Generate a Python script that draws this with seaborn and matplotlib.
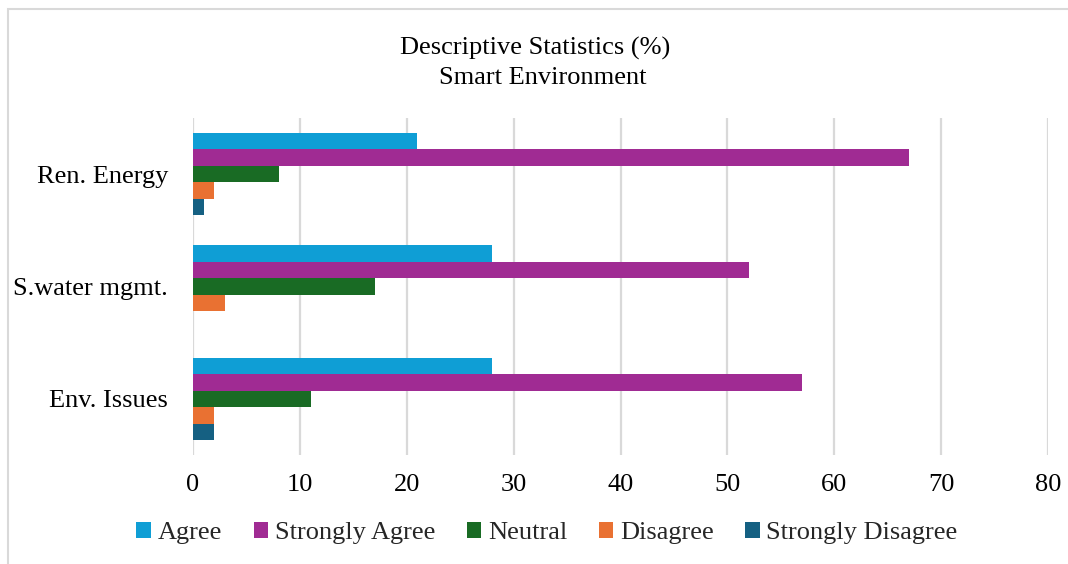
import matplotlib
matplotlib.use("Agg")
import matplotlib.pyplot as plt
from matplotlib.patches import Patch, Rectangle
import pandas as pd
import seaborn as sns

# Survey topics (top to bottom) and response shares in percent
categories = ["Ren. Energy", "S.water mgmt.", "Env. Issues"]
responses = ["Agree", "Strongly Agree", "Neutral", "Disagree", "Strongly Disagree"]
agree = [21, 28, 28]
strongly_agree = [67, 52, 57]
neutral = [8, 17, 11]
disagree = [2, 3, 2]
strongly_disagree = [1, 0, 2]
x_ticks = [0, 10, 20, 30, 40, 50, 60, 70, 80]

colors = ["#0F9ED5", "#A02B93", "#196B24", "#E97132", "#156082"]

series = [agree, strongly_agree, neutral, disagree, strongly_disagree]
rows = []
for resp, vals in zip(responses, series):
    for cat, v in zip(categories, vals):
        rows.append({"Topic": cat, "Response": resp, "Percent": v})
df = pd.DataFrame(rows)

sns.set_theme(style="white")
plt.rcParams["font.family"] = ["Liberation Serif", "DejaVu Serif"]

FS = 19

fig = plt.figure(figsize=(10.68, 5.64), dpi=100)
ax = fig.add_axes([193 / 1068, 1 - 455 / 564, (1048 - 193) / 1068, (455 - 118) / 564])

sns.barplot(data=df, y="Topic", x="Percent", hue="Response",
            order=categories, hue_order=responses, palette=colors,
            saturation=1, orient="h", errorbar=None, width=0.735, linewidth=0,
            ax=ax, legend=False)

ax.set_xlim(0, 80)
ax.set_xticks(x_ticks)
ax.set_xticklabels([str(t) for t in x_ticks])
ax.set_xlabel("")
ax.set_ylabel("")
ax.grid(axis="x", color="#D9D9D9", linewidth=1.6)
ax.grid(axis="y", visible=False)
ax.set_axisbelow(True)
for s in ax.spines.values():
    s.set_visible(False)
ax.tick_params(axis="x", length=0, pad=14, labelsize=FS, labelcolor="black")
ax.tick_params(axis="y", length=0, pad=18, labelsize=FS, labelcolor="black")

fig.text(535 / 1068, 1 - 48 / 564, "Descriptive Statistics (%)", ha="center",
         va="center", fontsize=FS, color="black")
fig.text(543 / 1068, 1 - 78 / 564, "Smart Environment", ha="center",
         va="center", fontsize=FS, color="black")

handles = [Patch(facecolor=c, edgecolor="none", label=r) for c, r in zip(colors, responses)]
fig.legend(handles=handles, loc="center", bbox_to_anchor=(547 / 1068, 1 - 533 / 564),
           ncol=5, frameon=False, fontsize=FS, handlelength=0.55, handleheight=0.55,
           handletextpad=0.25, columnspacing=1.2, borderaxespad=0)

# light outer frame
fig.patches.append(Rectangle((8 / 1068, -0.05), 1.1, 1 - 9 / 564 + 0.05,
                             transform=fig.transFigure, fill=False,
                             edgecolor="#D9D9D9", linewidth=1.5))

fig.savefig("out.png", dpi=100)
